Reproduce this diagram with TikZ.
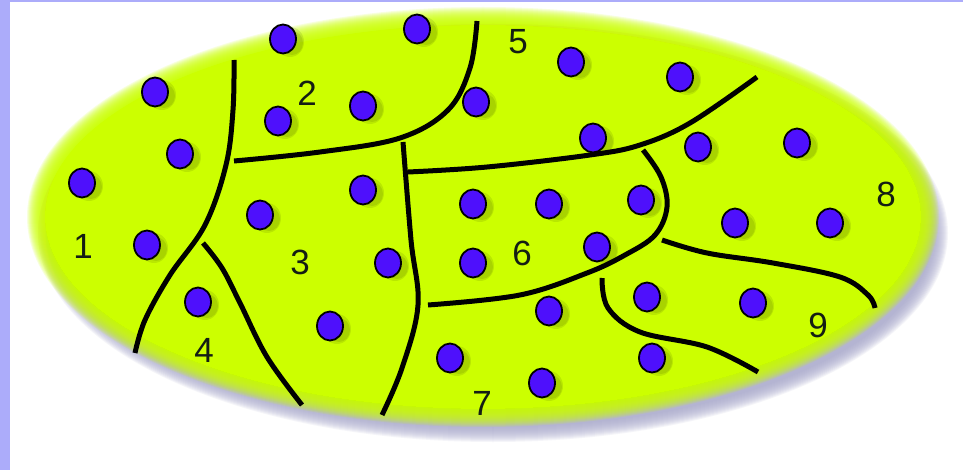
\documentclass[tikz,border=0pt]{standalone}
\usepackage{fontspec}
\setmainfont{Liberation Sans}
\usetikzlibrary{shapes.geometric}
\definecolor{lav}{RGB}{172,172,250}
\definecolor{limegreen}{RGB}{204,255,0}
\definecolor{dotblue}{RGB}{78,16,252}
\definecolor{shadecol}{RGB}{170,170,205}
\definecolor{txtcol}{RGB}{20,30,20}
\begin{document}
\begin{tikzpicture}[x=1pt,y=-1pt,
  dot/.style={ellipse, draw=black, line width=1.8pt, fill=dotblue,
    minimum width=26pt, minimum height=29pt, inner sep=0pt},
  lbl/.style={font=\fontsize{35pt}{35pt}\selectfont, text=txtcol, inner sep=0pt},
  border/.style={line width=5pt, black, line cap=butt}]
\useasboundingbox (0,0) rectangle (963,470);
\fill[white] (0,0) rectangle (963,470);
\fill[lav] (0,0) rectangle (10,470);
\fill[lav] (0,0) rectangle (963,2);
% shadow of the big ellipse
\foreach \k in {0,...,15}{
  \fill[shadecol, opacity=0.11] (493,233) ellipse [x radius={440pt+\k pt}, y radius={194pt+\k pt}];
}
% soft green ellipse
\fill[limegreen] (483,217) ellipse [x radius=438pt, y radius=192pt];
\foreach \k in {1,...,18}{
  \fill[limegreen, opacity=0.13] (483,217) ellipse [x radius={438pt+\k pt}, y radius={192pt+\k pt}];
}
% region boundaries
\draw[border] plot[smooth, tension=0.6] coordinates {(234,60) (233,110) (226,165) (205,225) (170,275) (145,320) (135,353)};
\draw[border] plot[smooth, tension=0.6] coordinates {(234,161) (320,152) (400,138) (448,110) (470,68) (477,21)};
\draw[border] plot[smooth, tension=0.6] coordinates {(403,142) (411,240) (418,305) (402,368) (382,415)};
\draw[border] plot[smooth, tension=0.6] coordinates {(408,172) (487,167) (590,155) (640,145) (690,123) (757,77)};
\draw[border] plot[smooth, tension=0.6] coordinates {(643,150) (661,177) (667,207) (655,235) (625,255) (587,273) (520,295) (428,305)};
\draw[border] plot[smooth, tension=0.6] coordinates {(602,278) (608,308) (640,332) (707,347) (758,372)};
\draw[border] plot[smooth, tension=0.6] coordinates {(662,240) (707,253) (773,263) (840,277) (868,295) (875,308)};
\draw[border] plot[smooth, tension=0.6] coordinates {(203,243) (222,268) (240,303) (267,357) (302,405)};
% dot shadows
\foreach \x/\y in {283/39,417/29,155/92,278/121,363/106,476/102,571/62,680/77,180/154,82/183,593/138,698/147,797/143,363/190,260/215,473/204,549/204,641/200,735/223,830/223,147/245,388/263,473/263,597/247,198/302,549/311,647/297,753/303,330/326,450/358,542/383,652/358}{
  \fill[black, opacity=0.09] (\x+7,\y+3) ellipse [x radius=14pt, y radius=15pt];
  \fill[black, opacity=0.09] (\x+9,\y+4) ellipse [x radius=11pt, y radius=12pt];
}
% dots
\foreach \x/\y [count=\i] in {283/39,417/29,155/92,278/121,363/106,476/102,571/62,680/77,180/154,82/183,593/138,698/147,797/143,363/190,260/215,473/204,549/204,641/200,735/223,830/223,147/245,388/263,473/263,597/247,198/302,549/311,647/297,753/303,330/326,450/358,542/383,652/358}{
  \node[dot] (d\i) at (\x,\y) {};
}
% labels
\node[lbl] (l1) at (83,246) {1};
\node[lbl] (l2) at (307,93) {2};
\node[lbl] (l3) at (300,262) {3};
\node[lbl] (l4) at (204,350) {4};
\node[lbl] (l5) at (518,42) {5};
\node[lbl] (l6) at (522,253) {6};
\node[lbl] (l7) at (482,403) {7};
\node[lbl] (l8) at (886,194) {8};
\node[lbl] (l9) at (818,325) {9};
\end{tikzpicture}
\end{document}
